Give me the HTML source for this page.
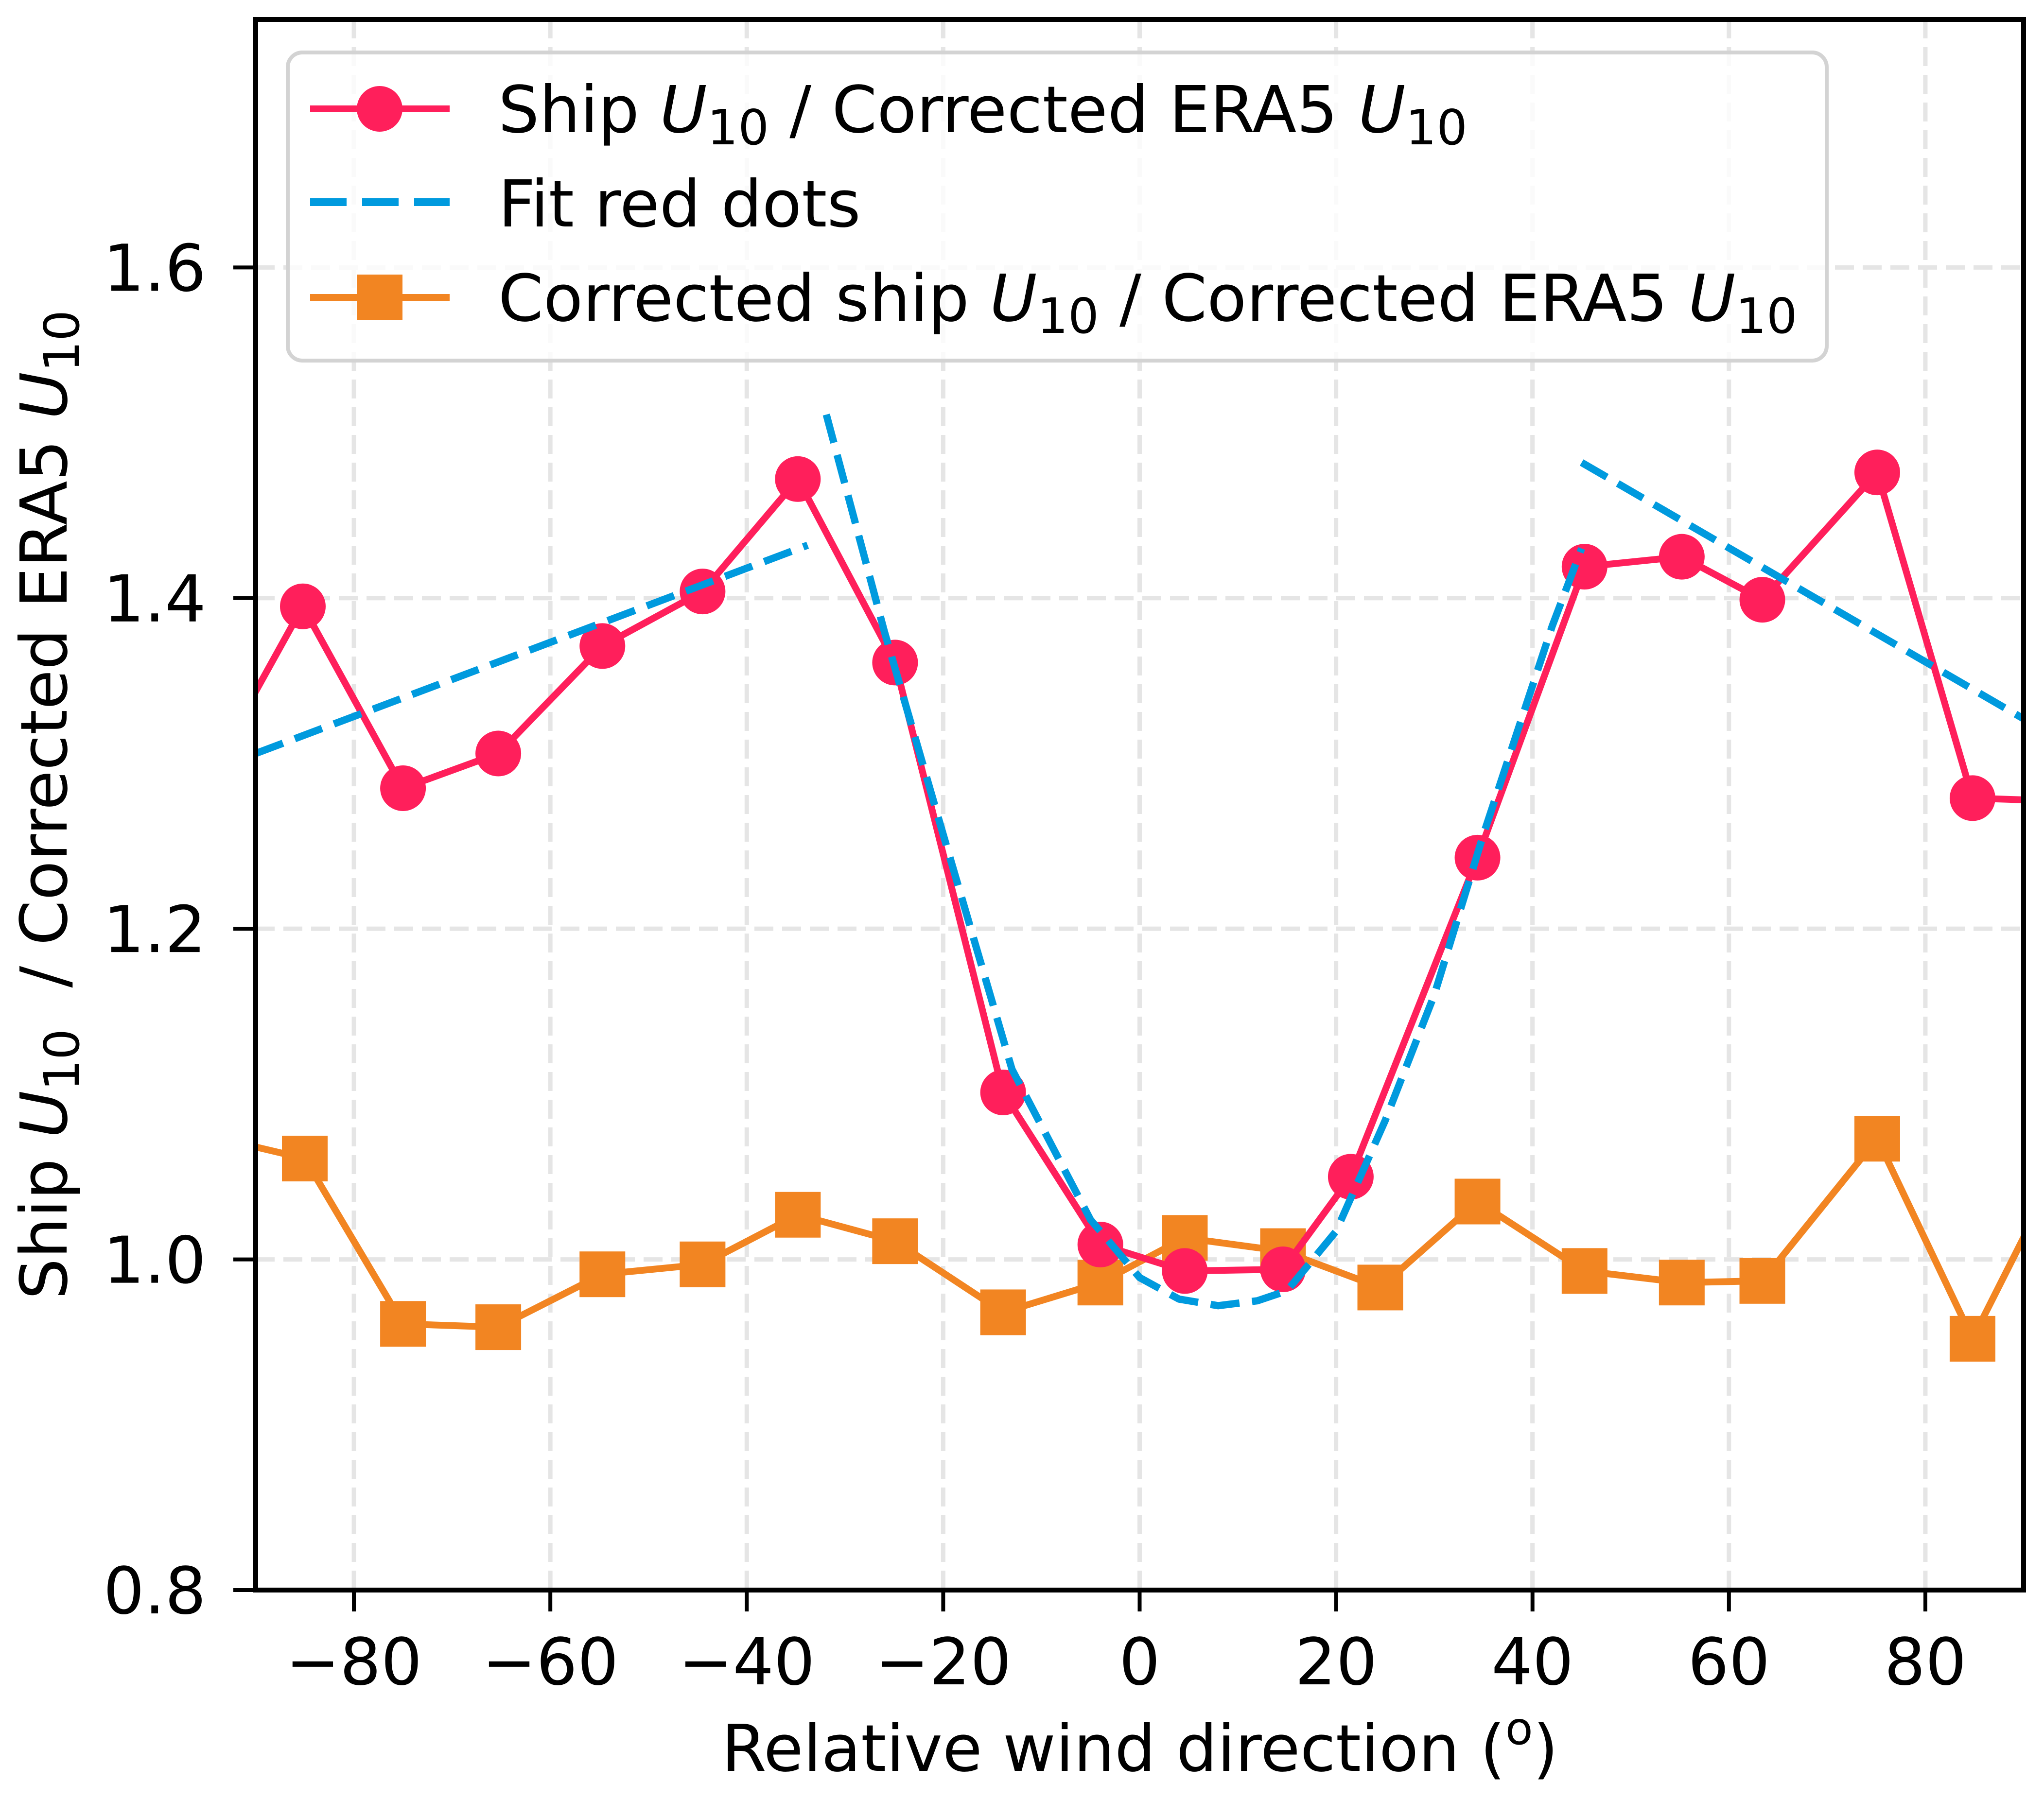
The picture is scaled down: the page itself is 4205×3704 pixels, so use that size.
<!DOCTYPE html>
<html><head><meta charset="utf-8"><style>
html,body{margin:0;padding:0;background:#fff;}
svg{display:block;}
text{font-family:"DejaVu Sans","Liberation Sans",sans-serif;fill:#000;white-space:pre;}
</style></head><body>
<svg id="chart" width="4205" height="3704" viewBox="0 0 4205 3704" xmlns="http://www.w3.org/2000/svg">
<rect x="0" y="0" width="4205" height="3704" fill="#fff"/>
<g id="grid"></g>
<g id="series"></g>
<rect x="526" y="40" width="3637" height="3232" fill="none" stroke="#000" stroke-width="10"/>
<g id="ticks"></g>
<text x="2345" y="3644" font-size="133" text-anchor="middle">Relative wind direction (<tspan font-size="93" dy="-55">o</tspan><tspan dy="55">)</tspan></text>
<text transform="translate(137,1656) rotate(-90)" font-size="133" text-anchor="middle">Ship <tspan font-style="italic">U</tspan><tspan font-size="100" dy="25">10</tspan><tspan dy="-25">&#160;&#160;/ Corrected ERA5 </tspan><tspan font-style="italic">U</tspan><tspan font-size="100" dy="25">10</tspan></text>
<g id="legend">
<rect x="592" y="108" width="3166" height="634" rx="30" fill="#fff" fill-opacity="0.8" stroke="#d3d3d3" stroke-width="8"/>
<g>
<line x1="638" y1="224" x2="925" y2="224" stroke="#FF1F5B" stroke-width="14"/>
<circle cx="781" cy="224" r="47" fill="#FF1F5B"/>
<text x="1025" y="272" font-size="133">Ship <tspan font-style="italic">U</tspan><tspan font-size="100" dy="25">10</tspan><tspan dy="-25"> / Corrected ERA5 </tspan><tspan font-style="italic">U</tspan><tspan font-size="100" dy="25">10</tspan></text>
</g>
<g>
<line x1="638" y1="416" x2="925" y2="416" stroke="#009ADE" stroke-width="16" stroke-dasharray="75,32"/>
<text x="1025" y="466" font-size="133">Fit red dots</text>
</g>
<g>
<line x1="638" y1="612" x2="925" y2="612" stroke="#F28522" stroke-width="14"/>
<rect x="734" y="565" width="94" height="94" fill="#F28522"/>
<text x="1025" y="660" font-size="133">Corrected ship <tspan font-style="italic">U</tspan><tspan font-size="100" dy="25">10</tspan><tspan dy="-25"> / Corrected ERA5 </tspan><tspan font-style="italic">U</tspan><tspan font-size="100" dy="25">10</tspan></text>
</g>
</g>
</svg>
<script>
const xTicks = [-80,-60,-40,-20,0,20,40,60,80];
const xTickLabels = ["\u221280","\u221260","\u221240","\u221220","0","20","40","60","80"];
const yTicks = [0.8,1.0,1.2,1.4,1.6];
const yTickLabels = ["0.8","1.0","1.2","1.4","1.6"];
const shipX = [-95,-85.2,-75,-65.3,-54.7,-44.5,-34.8,-24.9,-13.9,-4,4.6,14.6,21.5,34.4,45.3,55.2,63.4,75.1,84.8,95];
const shipY = [1.290,1.395,1.285,1.306,1.371,1.404,1.472,1.361,1.101,1.009,0.993,0.994,1.050,1.243,1.419,1.425,1.399,1.476,1.279,1.277];
const corrX = [-95,-85,-75,-65.3,-54.7,-44.5,-34.8,-24.9,-13.9,-4,4.6,14.6,24.5,34.4,45.3,55.2,63.4,75.1,84.8,95];
const corrY = [1.075,1.061,0.961,0.959,0.991,0.997,1.027,1.011,0.968,0.986,1.013,1.005,0.983,1.035,0.993,0.986,0.987,1.073,0.952,1.072];
const fit1X = [-90,-33.8];
const fit1Y = [1.306,1.432];
const fit2X = [-31.9,-26,-20,-13,-5,0,4,8,12,15,20,25,30,35,42,45];
const fit2Y = [1.511,1.38,1.257,1.115,1.024,0.989,0.976,0.972,0.975,0.981,1.017,1.084,1.16,1.257,1.383,1.430];
const fit3X = [45,90];
const fit3Y = [1.482,1.327];

const NS="http://www.w3.org/2000/svg";
const L=526,R=4163,T=40,B=3272;
function X(v){return L+(v+90)/180*(R-L);}
function Y(v){return B-(v-0.8)/0.95*(B-T);}
function mk(tag,attrs,parent){const e=document.createElementNS(NS,tag);for(const k in attrs)e.setAttribute(k,attrs[k]);parent.appendChild(e);return e;}
const grid=document.getElementById('grid'),ticks=document.getElementById('ticks'),ser=document.getElementById('series');
xTicks.forEach((v,i)=>{
  const g=mk('line',{x1:X(v),x2:X(v),y1:T,y2:B,stroke:'#e5e5e5','stroke-width':9,'stroke-dasharray':'39,18'},grid);
  
  
  const t=mk('line',{x1:X(v),x2:X(v),y1:B,y2:B+44,stroke:'#000','stroke-width':8},ticks);
  
  
  const lb=mk('text',{x:X(v),y:3466,'font-size':133,'text-anchor':'middle'},ticks);
  lb.textContent=xTickLabels[i];
  
  
});
yTicks.forEach((v,i)=>{
  const g=mk('line',{x1:L,x2:R,y1:Y(v),y2:Y(v),stroke:'#e5e5e5','stroke-width':9,'stroke-dasharray':'39,18'},grid);
  
  
  const t=mk('line',{x1:L-46,x2:L,y1:Y(v),y2:Y(v),stroke:'#000','stroke-width':8},ticks);
  
  
  const lb=mk('text',{x:424,y:Y(v)+48,'font-size':133,'text-anchor':'end'},ticks);
  lb.textContent=yTickLabels[i];
  
  
});
function pts(xs,ys){return xs.map((x,i)=>X(x)+','+Y(ys[i])).join(' ');}
const clip=mk('clipPath',{id:'clip'},ser);mk('rect',{x:L,y:T,width:R-L,height:B-T},clip);
const sg=mk('g',{'clip-path':'url(#clip)'},ser);
const cl=mk('polyline',{points:pts(corrX,corrY),fill:'none',stroke:'#F28522','stroke-width':14,'stroke-linejoin':'round'},sg);


corrX.forEach((x,i)=>{
  const r=mk('rect',{x:X(x)-47,y:Y(corrY[i])-47,width:94,height:94,fill:'#F28522'},sg);
  
  
});
const sl=mk('polyline',{points:pts(shipX,shipY),fill:'none',stroke:'#FF1F5B','stroke-width':14,'stroke-linejoin':'round'},sg);


shipX.forEach((x,i)=>{
  const c=mk('circle',{cx:X(x),cy:Y(shipY[i]),r:47,fill:'#FF1F5B'},sg);
  
  
});
[[fit1X,fit1Y],[fit2X,fit2Y],[fit3X,fit3Y]].forEach(([xs,ys])=>{
  const f=mk('polyline',{points:pts(xs,ys),fill:'none',stroke:'#009ADE','stroke-width':15,'stroke-dasharray':'60,26','stroke-linejoin':'round'},sg);
  
  
});
</script>
</body></html>
